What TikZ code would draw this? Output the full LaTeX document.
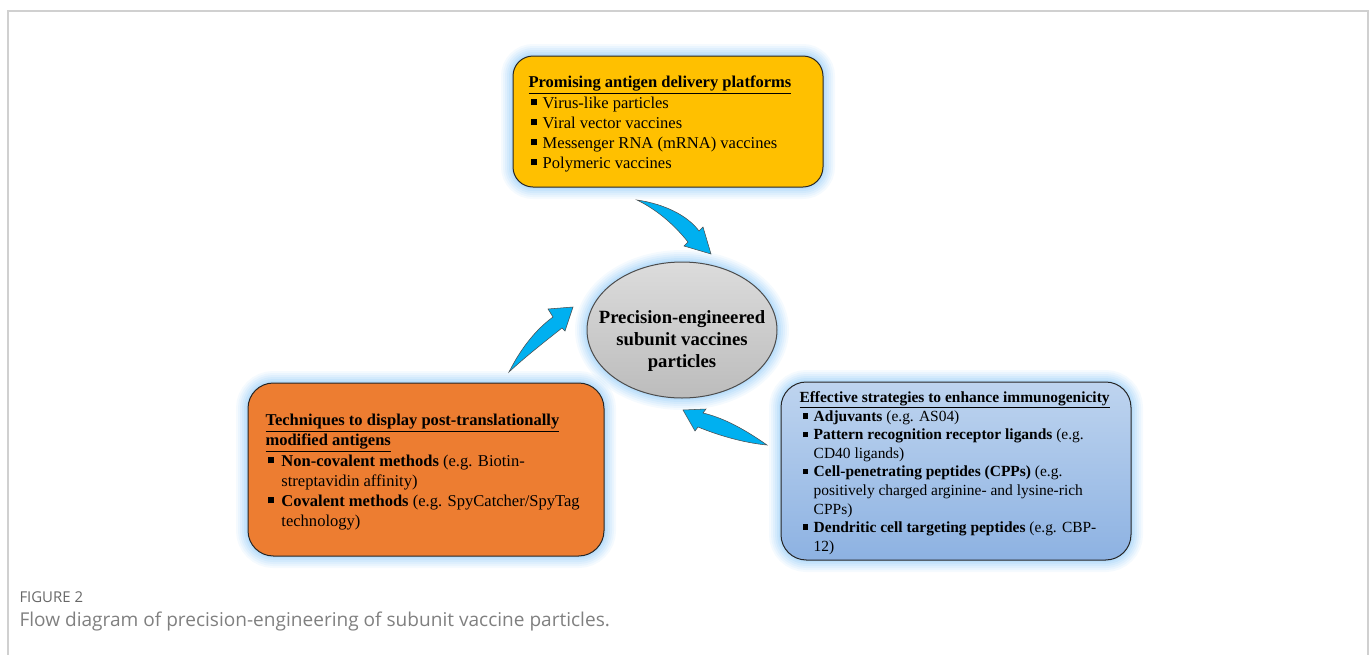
\documentclass[tikz,border=0pt]{standalone}
\usepackage{fontspec}
\setmainfont{Liberation Serif}
\newfontfamily\capfont{Open Sans}
\usetikzlibrary{shapes.geometric}

\definecolor{platformyellow}{RGB}{255,192,0}
\definecolor{techorange}{RGB}{237,125,49}
\definecolor{strattop}{RGB}{190,212,239}
\definecolor{stratbottom}{RGB}{141,178,226}
\definecolor{coretop}{RGB}{220,220,220}
\definecolor{corebottom}{RGB}{188,188,188}
\definecolor{arrowcyan}{RGB}{0,176,240}
\definecolor{glowblue}{RGB}{110,185,245}
\definecolor{framegray}{RGB}{208,208,208}
\definecolor{capgray}{RGB}{128,128,128}

\newcommand{\sqbullet}{\rule[0.18em]{0.36em}{0.36em}}

\tikzset{every picture/.style={line width=0.75pt},
  glow/.style={preaction={draw=glowblue,line width=18pt,draw opacity=0.07},
               preaction={draw=glowblue,line width=15pt,draw opacity=0.08},
               preaction={draw=glowblue,line width=12pt,draw opacity=0.09},
               preaction={draw=glowblue,line width=9pt,draw opacity=0.1},
               preaction={draw=glowblue,line width=6pt,draw opacity=0.12},
               preaction={draw=glowblue,line width=3pt,draw opacity=0.15}},
  infobox/.style={glow,draw=black!85,inner sep=0pt},
  boxtext/.style={anchor=west,inner sep=0pt,font=\fontsize{12.4}{15}\selectfont},
  curvedarrow/.style={fill=arrowcyan,draw=black!70,line width=0.4pt}}

\begin{document}
\begin{tikzpicture}[x=0.75pt,y=0.75pt,yscale=-1,xscale=1]
	\useasboundingbox (0,0) rectangle (1372,654);

	%Shape: Frame
	\draw [framegray,line width=1.1pt] (8,660) -- (8,11) -- (1368,11) -- (1368,660) ;

	% Box: delivery platforms
	\node [infobox,fill=platformyellow,minimum width=232.5pt,minimum height=98.25pt,rounded corners=15pt] (platforms) at (668,121.5) {};
	\node [boxtext] (platformstext) at (528,124)
	{\begin{tabular}{@{\hspace{2.2pt}}l@{\hspace{4pt}}l@{}}
	\multicolumn{2}{@{}l@{}}{\underline{\textbf{Promising antigen delivery platforms}}}\\
	\sqbullet & Virus-like particles\\
	\sqbullet & Viral vector vaccines\\
	\sqbullet & Messenger RNA (mRNA) vaccines\\
	\sqbullet & Polymeric vaccines
	\end{tabular}};

	% Ellipse: core
	\draw [glow,draw=black!70,top color=coretop,bottom color=corebottom] (682,330) ellipse [x radius=71.25pt,y radius=51pt] ;
	\node [align=center,inner sep=0pt,font=\bfseries\fontsize{14}{16.5}\selectfont] (core) at (682,341)
	{Precision-engineered\\subunit vaccines\\particles};

	% Box: display techniques
	\node [infobox,fill=techorange,minimum width=267pt,minimum height=129.75pt,rounded corners=19pt] (techniques) at (426,469.5) {};
	\node [boxtext] (techniquestext) at (265,472)
	{\begin{tabular}{@{\hspace{2pt}}l@{\hspace{5.5pt}}l@{}}
	\multicolumn{2}{@{}l@{}}{\underline{\textbf{Techniques to display post-translationally}}}\\
	\multicolumn{2}{@{}l@{}}{\underline{\textbf{modified antigens}}}\\
	\sqbullet & \textbf{Non-covalent methods} (e.g. Biotin-\\
	 & streptavidin affinity)\\
	\sqbullet & \textbf{Covalent methods} (e.g. SpyCatcher/SpyTag\\
	 & technology)
	\end{tabular}};

	% Box: immunogenicity strategies
	\node [infobox,top color=strattop,bottom color=stratbottom,minimum width=262.5pt,minimum height=133.5pt,rounded corners=19pt] (strategies) at (956,471) {};
	\node [boxtext,font=\fontsize{11.6}{13.9}\selectfont] (strategiestext) at (799,473)
	{\begin{tabular}{@{\hspace{2.5pt}}l@{\hspace{4pt}}l@{}}
	\multicolumn{2}{@{}l@{}}{\underline{\textbf{Effective strategies to enhance immunogenicity}}}\\
	\sqbullet & \textbf{Adjuvants} (e.g. AS04)\\
	\sqbullet & \textbf{Pattern recognition receptor ligands} (e.g.\\
	 & CD40 ligands)\\
	\sqbullet & \textbf{Cell-penetrating peptides (CPPs)} (e.g.\\
	 & positively charged arginine- and lysine-rich\\
	 & CPPs)\\
	\sqbullet & \textbf{Dendritic cell targeting peptides} (e.g. CBP-\\
	 & 12)
	\end{tabular}};

	%Shape: Curved Arrow (platforms to core)
	\draw [curvedarrow] (637,200) .. controls (665,204) and (688,216) .. (699,231) -- (703,227) -- (711,254) -- (684,246) -- (688,242) .. controls (672,222) and (655,209) .. cycle ;
	%Shape: Curved Arrow (techniques to core)
	\draw [curvedarrow] (509,372) .. controls (520,350) and (535,330) .. (553,317) -- (548,309) -- (573,307) -- (565,331) -- (562,328) .. controls (543,343) and (524,358) .. cycle ;
	%Shape: Curved Arrow (strategies to core)
	\draw [curvedarrow] (767,445) .. controls (740,426) and (720,417) .. (703,413) -- (706,409) -- (683,410) -- (695,431) -- (698,427) .. controls (720,436) and (745,443) .. cycle ;

	% Text Node
	\node [anchor=west,inner sep=0pt,text=capgray!80!black,font=\capfont\fontsize{11.2}{13}\selectfont] (figlabel) at (19,597) {FIGURE 2};
	% Text Node
	\node [anchor=west,inner sep=0pt,text=capgray,font=\capfont\fontsize{14.3}{17}\selectfont] (caption) at (19,621) {Flow diagram of precision-engineering of subunit vaccine particles.};

\end{tikzpicture}
\end{document}
